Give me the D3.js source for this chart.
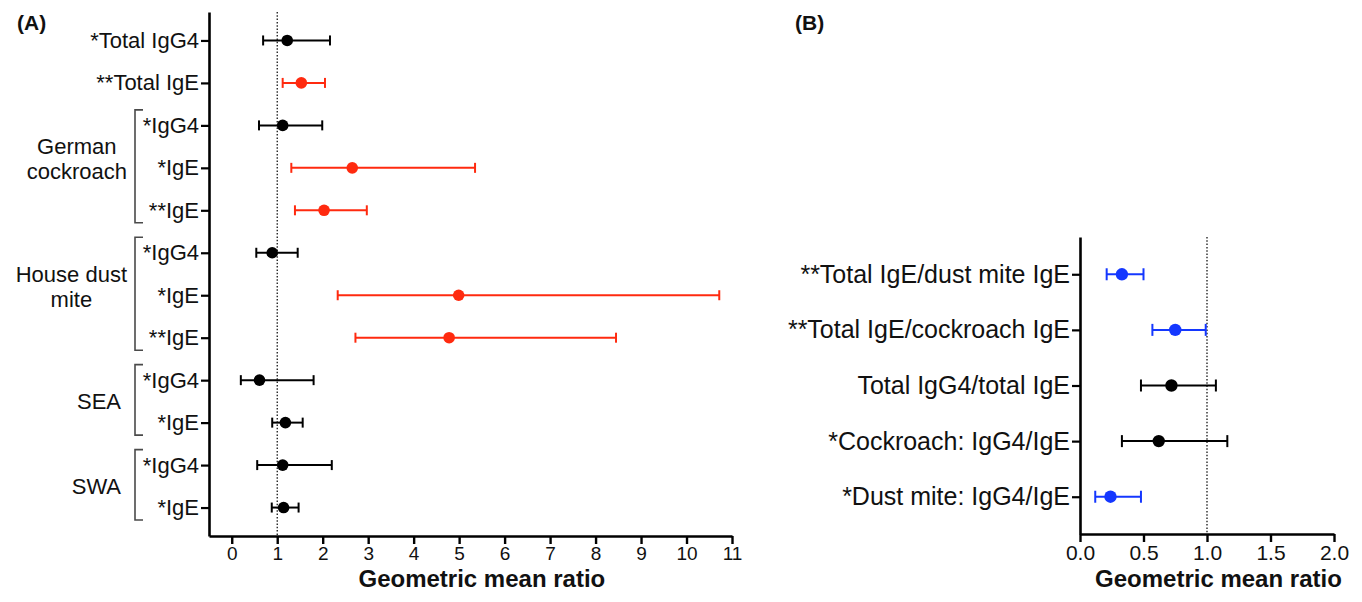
<!DOCTYPE html>
<html>
<head>
<meta charset="utf-8">
<script src="https://cdn.jsdelivr.net/npm/d3@7"></script>
<style>
  html, body { margin: 0; padding: 0; background: #fff; }
  svg { display: block; font-family: "Liberation Sans", Arial, Helvetica, sans-serif; }
</style>
</head>
<body>
<svg id="chart" width="1362" height="602"></svg>
<script>
// ---------------- Panel A data ----------------
const leftLabels = ["*Total IgG4", "**Total IgE", "*IgG4", "*IgE", "**IgE", "*IgG4", "*IgE", "**IgE", "*IgG4", "*IgE", "*IgG4", "*IgE"];
const leftMean   = [1.22, 1.53, 1.12, 2.65, 2.03, 0.89, 4.99, 4.78, 0.61, 1.18, 1.12, 1.14];
const leftLower  = [0.69, 1.12, 0.60, 1.31, 1.39, 0.54, 2.33, 2.72, 0.20, 0.89, 0.56, 0.88];
const leftUpper  = [2.16, 2.05, 1.99, 5.35, 2.97, 1.45, 10.72, 8.45, 1.80, 1.56, 2.20, 1.47];
const leftSignal = ["ns", "up", "ns", "up", "up", "ns", "up", "up", "ns", "ns", "ns", "ns"];
const leftTicks  = [0, 1, 2, 3, 4, 5, 6, 7, 8, 9, 10, 11];

const groupLines = [["German", "cockroach"], ["House dust", "mite"], ["SEA"], ["SWA"]];
const groupStart = [2, 5, 8, 10];
const groupEnd   = [4, 7, 9, 11];

// ---------------- Panel B data ----------------
const rightLabels = ["**Total IgE/dust mite IgE", "**Total IgE/cockroach IgE", "Total IgG4/total IgE", "*Cockroach: IgG4/IgE", "*Dust mite: IgG4/IgE"];
const rightMean   = [0.33, 0.75, 0.72, 0.62, 0.24];
const rightLower  = [0.21, 0.57, 0.48, 0.33, 0.12];
const rightUpper  = [0.50, 0.99, 1.07, 1.16, 0.48];
const rightSignal = ["down", "down", "ns", "ns", "down"];
const rightTicks  = [0, 0.5, 1, 1.5, 2];

const axisTitle = "Geometric mean ratio";
const refValue = 1;

// ---------------- drawing ----------------
const svg = d3.select("#chart");
const color = d3.scaleOrdinal().domain(["ns", "up", "down"]).range(["#000000", "#ff2a0f", "#1437ff"]);
const groupColor = "#4a4a4a";

function panel(cfg) {
  const g = svg.append("g");
  const idx = cfg.labels.map((d, i) => i);
  const x = d3.scaleLinear().domain(cfg.xDomain).range(cfg.xRange);
  const y = d3.scalePoint().domain(idx).range(cfg.yRange).padding(0.67);

  // reference dotted line
  g.append("line")
    .attr("x1", x(refValue)).attr("x2", x(refValue))
    .attr("y1", cfg.yRange[0]).attr("y2", cfg.yRange[1])
    .attr("stroke", "#000").attr("stroke-width", 1.2)
    .attr("stroke-dasharray", "1.5,1.8");

  // x axis
  const xa = g.append("g")
    .attr("transform", `translate(0,${cfg.yRange[1]})`)
    .call(d3.axisBottom(x).tickValues(cfg.ticks).tickFormat(cfg.tickFormat)
      .tickSize(8).tickSizeOuter(0).tickPadding(3));
  xa.select(".domain").attr("stroke-width", 2.6);
  xa.selectAll(".tick line").attr("stroke-width", 2.4);
  xa.selectAll(".tick text").attr("font-size", cfg.tickFont).attr("fill", "#111")
    .attr("font-family", "'Liberation Sans', Arial, sans-serif");

  // y axis
  const ya = g.append("g")
    .attr("transform", `translate(${cfg.xRange[0]},0)`)
    .call(d3.axisLeft(y).tickFormat(i => cfg.labels[i]).tickSize(8).tickSizeOuter(0).tickPadding(2));
  ya.select(".domain").attr("stroke-width", 2.6);
  ya.selectAll(".tick line").attr("stroke-width", 2.2);
  ya.selectAll(".tick text").attr("font-size", cfg.labelFont).attr("fill", "#111")
    .attr("font-family", "'Liberation Sans', Arial, sans-serif");

  // axis title
  g.append("text")
    .attr("x", cfg.titleX(x)).attr("y", cfg.titleY)
    .attr("text-anchor", "middle").attr("font-weight", "bold")
    .attr("font-size", cfg.titleFont).attr("fill", "#111")
    .text(axisTitle);

  // error bars
  const rows = g.append("g").selectAll("g").data(idx).join("g")
    .attr("transform", i => `translate(0,${y(i)})`)
    .attr("stroke", i => color(cfg.signal[i]))
    .attr("fill", i => color(cfg.signal[i]));
  rows.append("line")
    .attr("x1", i => x(cfg.lower[i])).attr("x2", i => x(cfg.upper[i]))
    .attr("stroke-width", cfg.barWidth);
  rows.append("line")
    .attr("x1", i => x(cfg.lower[i])).attr("x2", i => x(cfg.lower[i]))
    .attr("y1", -cfg.cap).attr("y2", cfg.cap).attr("stroke-width", cfg.barWidth);
  rows.append("line")
    .attr("x1", i => x(cfg.upper[i])).attr("x2", i => x(cfg.upper[i]))
    .attr("y1", -cfg.cap).attr("y2", cfg.cap).attr("stroke-width", cfg.barWidth);
  rows.append("circle")
    .attr("cx", i => x(cfg.mean[i])).attr("r", cfg.dot).attr("stroke", "none");

  // panel letter
  svg.append("text")
    .attr("x", cfg.letterX).attr("y", 30)
    .attr("font-weight", "bold").attr("font-size", 21).attr("fill", "#111")
    .text(cfg.letter);

  return { x, y, g };
}

const A = panel({
  labels: leftLabels, mean: leftMean, lower: leftLower, upper: leftUpper, signal: leftSignal,
  ticks: leftTicks, tickFormat: d3.format("d"),
  xDomain: [-0.5, 11], xRange: [209, 732], yRange: [12, 536],
  labelFont: 22, tickFont: 19, titleFont: 24,
  titleX: x => x(5.5), titleY: 587,
  barWidth: 2, cap: 5, dot: 5.8,
  letter: "(A)", letterX: 17
});

const B = panel({
  labels: rightLabels, mean: rightMean, lower: rightLower, upper: rightUpper, signal: rightSignal,
  ticks: rightTicks, tickFormat: d3.format(".1f"),
  xDomain: [0, 2], xRange: [1080, 1334], yRange: [237, 534],
  labelFont: 25, tickFont: 21, titleFont: 24,
  titleX: x => x(1.09), titleY: 587,
  barWidth: 2, cap: 6, dot: 6.2,
  letter: "(B)", letterX: 795
});

// group brackets and labels in panel A
const bx = 135, bTick = 8;
groupLines.forEach((lines, k) => {
  const y0 = A.y(groupStart[k]) - 15.5;
  const y1 = A.y(groupEnd[k]) + 12.5;
  A.g.append("path")
    .attr("d", `M${bx + bTick},${y0}H${bx}V${y1}H${bx + bTick}`)
    .attr("fill", "none").attr("stroke", groupColor).attr("stroke-width", 1.6);
  const yMid = (A.y(groupStart[k]) + A.y(groupEnd[k])) / 2;
  const n = lines.length;
  const t = A.g.append("text")
    .attr("text-anchor", "middle").attr("font-size", 22).attr("fill", "#111");
  const spans = t.selectAll("tspan").data(lines).join("tspan")
    .attr("y", (d, j) => yMid + 8 + (j - (n - 1) / 2) * 25 - (n > 1 ? 9 : 0))
    .text(d => d);
  let w = 0;
  spans.each(function () { w = Math.max(w, this.getComputedTextLength()); });
  const right = bx - 8 - (n === 1 ? 6 : 0);
  spans.attr("x", right - w / 2);
});
</script>
</body>
</html>
